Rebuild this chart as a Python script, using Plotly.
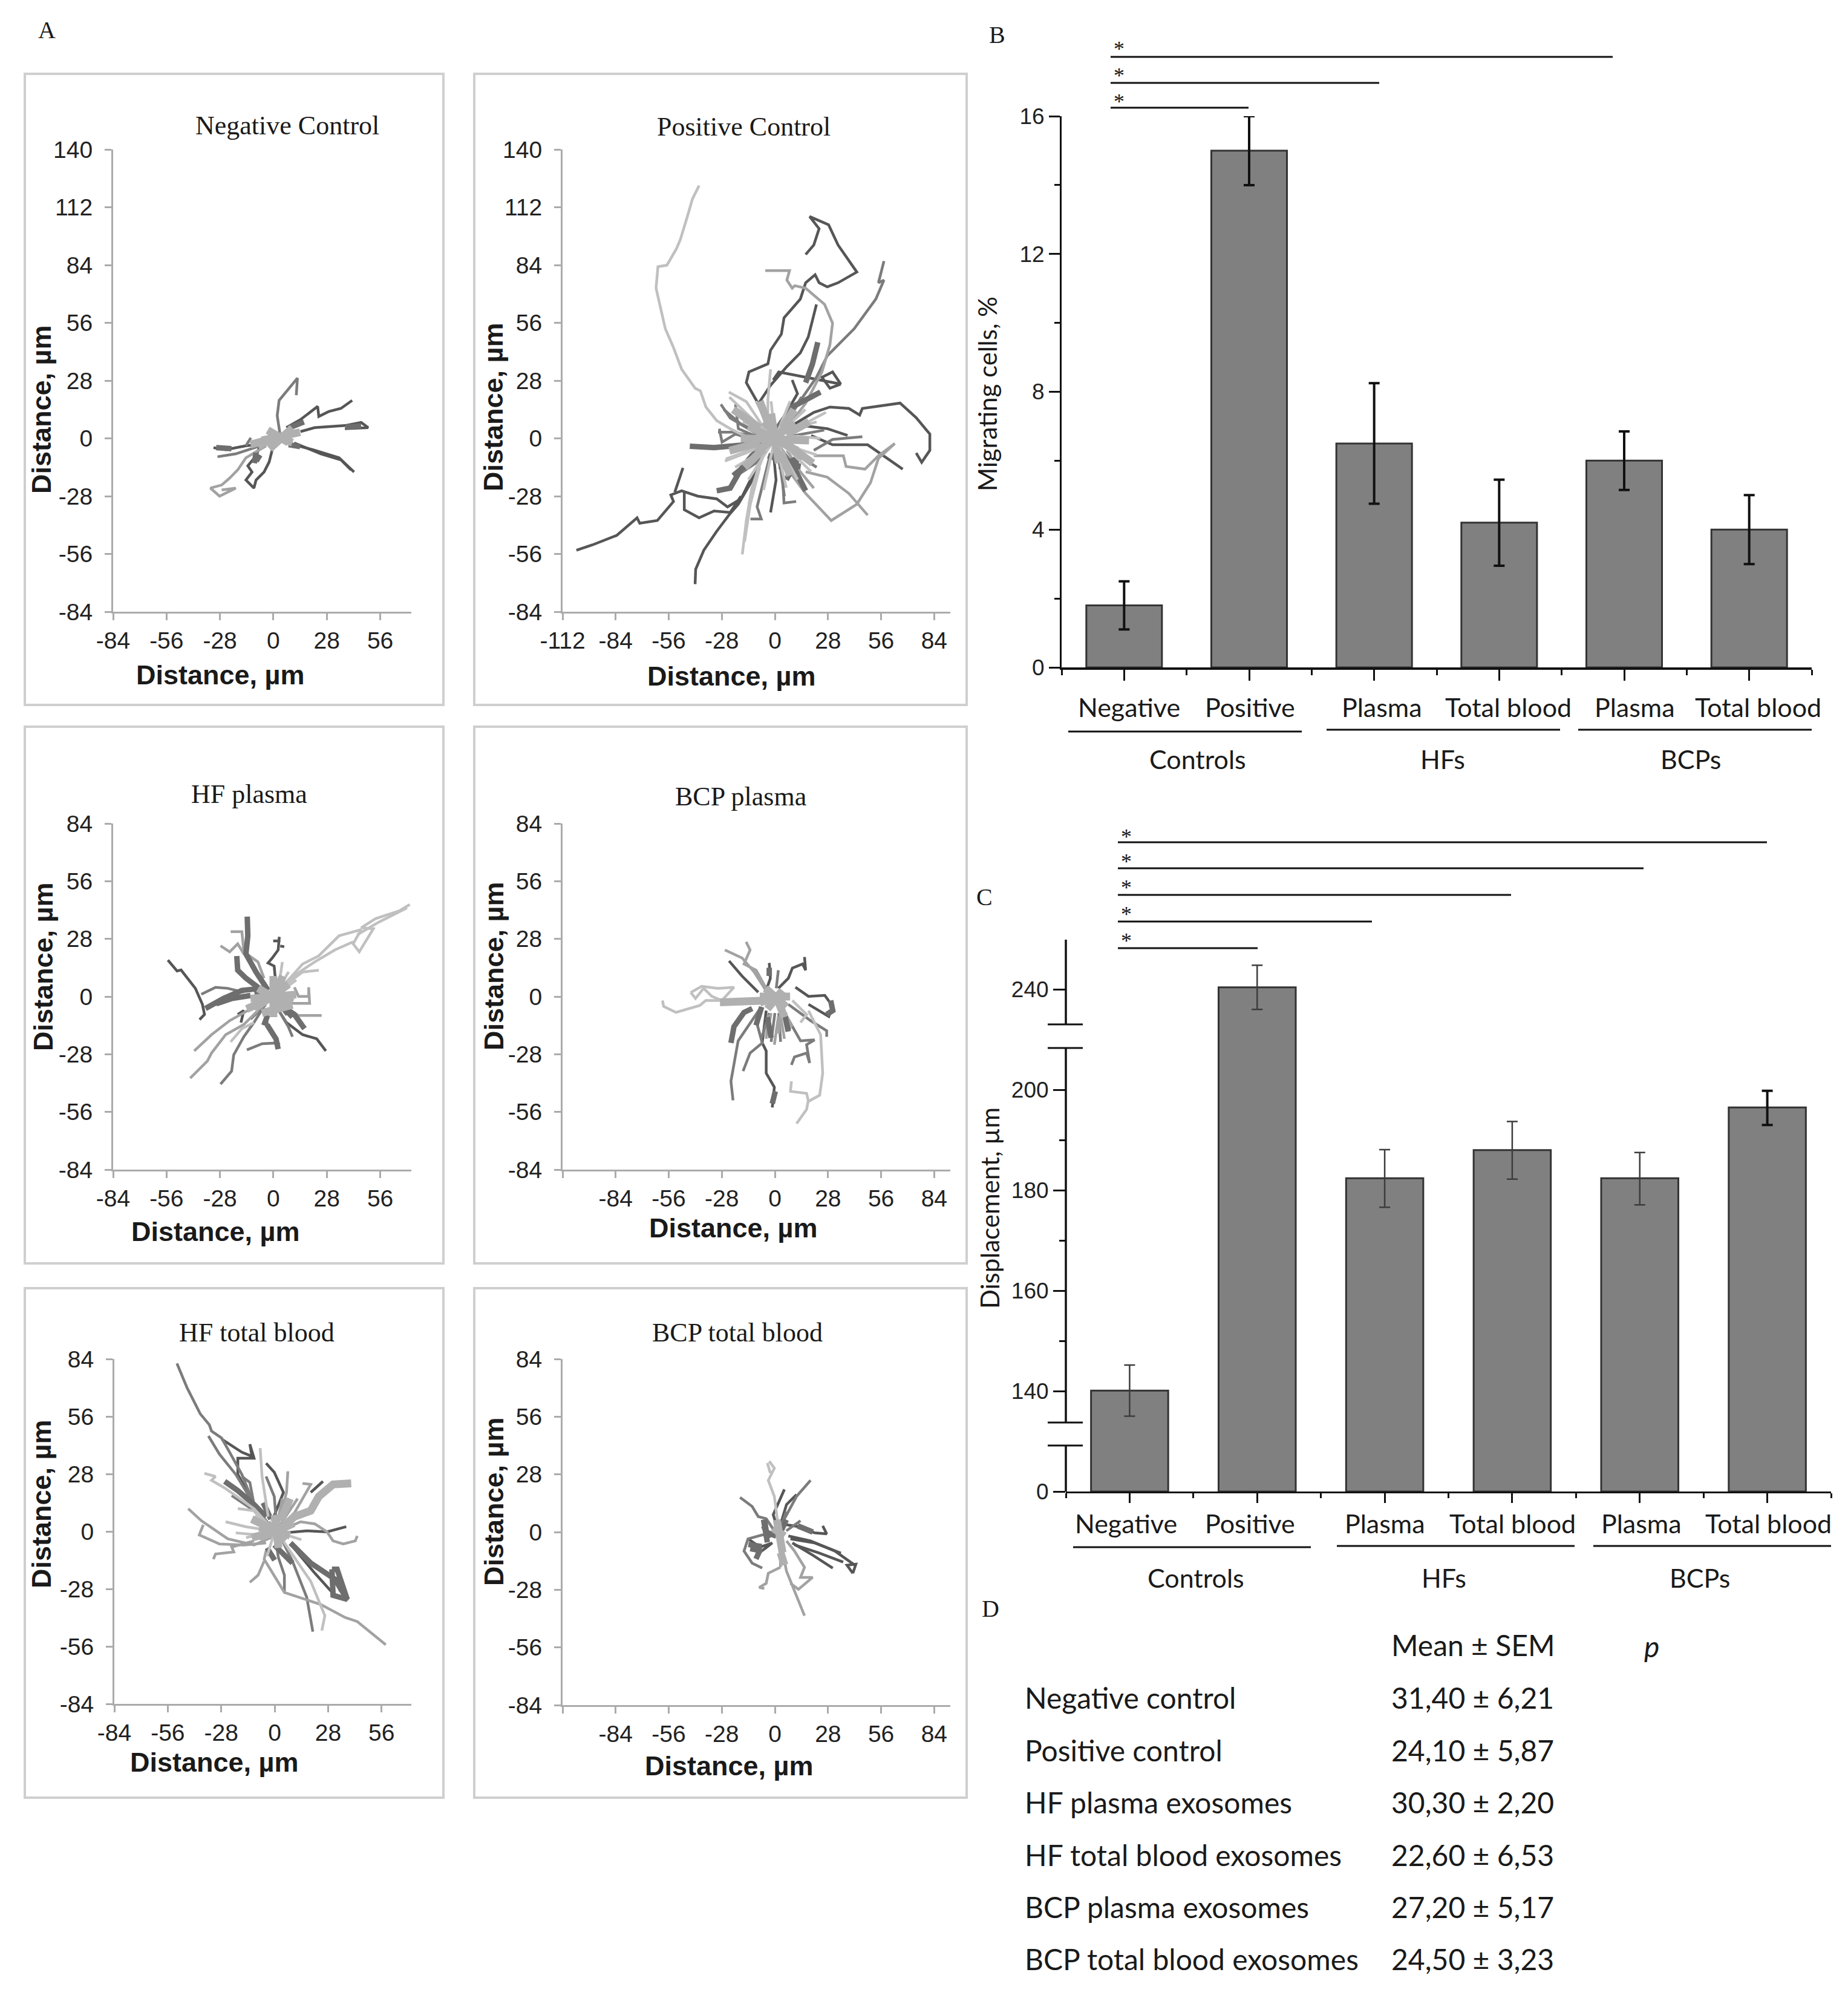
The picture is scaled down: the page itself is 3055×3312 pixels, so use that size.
import plotly.graph_objects as go

W, H = 3055, 3312

# ---------- Panel A: cell tracks, (x, y) in micrometres, grouped by shade ----------
neg_dark = [
    [(6.8,5.2),(14.2,9.1),(23.2,15.5),(23.8,10.6),(29,13),(35.4,14.5),(41.3,18.4)],
    [(8.9,-2.6),(20.6,-5.5),(34.4,-9.4),(42.3,-16.3)],
    [(10.9,-2.2),(24.9,-7.5),(35.4,-10.4),(40.7,-15.3)],
    [(14.2,3.3),(21.6,5.2),(37.5,6.2),(46,7.7),(49.7,5.2),(37.5,4.7)],
    [(-0.6,-5.5),(-2.2,-11.4),(-4.9,-16.3),(-9.1,-20.2),(-10.2,-24.1),(-14.4,-20.2),(-11.2,-16.3),(-13.4,-13.3),(-9.1,-8.5),(-7,-3.6)],
    [(-3.8,-2.6),(-14.4,-3.6),(-25,-5.5),(-31.4,-4.5)],
]
neg_grey = [
    [(3.6,1.3),(2,11),(3,18.4),(6.8,22.8),(12.6,29.2),(12,20.9)],
    [(-14.4,-3.6),(-11.8,0.3)],
    [(-7,-3.6),(-19.7,-7.5),(-29.3,-8.9)],
]
neg_pale = [
    [(-3.8,-3.6),(-14.4,-9.4),(-18.7,-15.3),(-22.9,-19.2),(-27.1,-22.6),(-33,-24.1),(-28.2,-28),(-19.7,-24.1),(-27.1,-25)],
]
neg_light = []
neg_wide_dark = [
    [(-9.1,-7),(-10,-12)],
    [(8,5),(16,8)],
    [(38,5.5),(46,6)],
    [(-30,-4.5),(-22,-5)],
    [(8,-3),(14,-4)],
    [(-7,-8),(-9,-11)],
]
neg_wide_pale = [
    [(-6,-1),(14,3)],
    [(-2,-5),(10,5)],
    [(-3,4),(8,-2)],
    [(-12,-3),(4,1)],
    [(-8,-4),(-3,-1)],
    [(10,-2),(4,0)],
]

pos_dark = [
    [(16.2,89.1),(20.5,93.7),(23.3,101.6),(18.3,107.5),(28.3,103.5),(33.3,93.7),(43.2,80.6),(33.3,75.4),(27.6,73.4),(23.3,75.4),(21.2,79.3),(16.2,75.4),(13.4,67.5),(4.8,58.4),(3.4,50.5),(-2.3,42.7),(-3.7,36.1),(-13.7,32.2),(-15.1,27),(-9.4,17.8),(-3.7,6)],
    [(21.9,64.9),(17.6,49.2),(13.4,41.4),(6.3,34.8),(-2.3,25.7),(-8,17.8),(-2.3,2.1)],
    [(34.7,26.3),(29,24.3),(24.8,29.6),(30.4,32.2),(34.7,26.3),(16.2,29.6),(2,32.2),(-0.9,28.3)],
    [(9.1,28.3),(11.9,21.7),(2,6)],
    [(6.3,4.7),(20.5,12.6),(29,15.2),(39,14.5),(44.7,11.3),(46.1,14.5),(66,17.1),(74.5,10),(81.7,2.1),(81.7,-5.8),(77.4,-11.6),(74.5,-7.1)],
    [(16.2,6),(27.6,4.7),(38.3,1.4)],
    [(19.1,1.4),(30.4,-3.1),(48.9,-3.1),(67.4,-14.9)],
    [(-104.7,-54.2),(-96.2,-51.6),(-83.4,-47),(-72.7,-38.5),(-71.3,-41.1),(-62,-39.8),(-53.5,-30.6),(-54.9,-27.4),(-49.2,-25.4),(-40.7,-28),(-30.7,-29.3),(-25,-33.2),(-17.9,-29.3),(-9.4,-13.6)],
    [(-48.5,-14.3),(-52.8,-26)],
    [(-47.8,-25.4),(-47.8,-34.6),(-40,-38.5),(-32.1,-35.2),(-23.6,-35.9),(-17.9,-28)],
    [(-42.1,-70.6),(-41.8,-63.4),(-37.5,-54.2),(-30.7,-45),(-24.3,-37.2),(-19.3,-31.9),(-9.4,-16.2)],
    [(-2.3,-35.9),(0.6,-20.2),(-0.9,-5.8)],
]
pos_grey = [
    [(57.5,85.9),(54.6,75.4),(57.5,76.7),(53.2,67.5),(41.8,53.1),(27.6,40),(21.9,29.6),(13.4,18.3),(2,2.1)],
    [(20.5,-5.8),(30.4,-0.5),(46.1,0.8)],
    [(-12.9,-39.1),(-7.2,-39.1),(-9.4,-33.2),(-5.1,-17.5),(-2.3,-7.1)],
    [(11.2,-30.6),(4.8,-31.3),(4.1,-20.2),(2,-5.8)],
    [(-28.5,16.5),(-23.6,9.9),(-9.4,2.1)],
    [(-29.3,4.7),(-27.9,-1.8),(-20.8,2.1),(-12.2,-0.5)],
    [(-20.8,16.5),(-19.3,4.7),(-9.4,0.8)],
    [(-30,3),(-22,3),(-10,1)],
    [(-27,14),(-18,7),(-6,2)],
    [(-20,-18),(-10,-12),(-2,-3)],
    [(5,-28),(3,-15),(0,-3)],
    [(14,-24),(8,-13),(1,-3)],
    [(22,-14),(12,-8),(2,-2)],
    [(26,4),(14,2),(2,0)],
    [(14,20),(8,11),(1,2)],
]
pos_pale = [
    [(-5.1,81.3),(7.7,81.3),(6.3,76.7),(9.1,72.8),(10.5,74),(16.2,72.8),(26.2,64.9),(30.4,55.8),(29,45.3),(24.8,32.2),(16.2,17),(4.8,3.4)],
    [(20.5,-8.4),(36.1,-8.4),(37.5,-13.6),(47.5,-14.9),(54.6,-8.4),(63.2,-2.5)],
    [(63.2,-2.5),(54.6,-9.7),(50.4,-21.5),(43.2,-31.9),(29.7,-39.8),(16.2,-26.7),(7.7,-16.2)],
    [(16.2,-16.2),(27.6,-18.8),(39,-26.7),(48.9,-37.2)],
    [(20.5,-24.1),(13.4,-16.2),(6.3,-5.8)],
]
pos_light = [
    [(-40,122.5),(-43.5,116),(-46.4,106.8),(-49.9,96.3),(-52,91.8),(-57,83.9),(-61.7,83.2),(-62.7,72.8),(-57.8,53.1),(-53.5,44),(-49.2,33.5),(-42.1,24.3),(-39.3,23),(-36.4,15.2),(-30.7,8.6),(-23.6,4.7),(-12.2,-0.5)],
    [(-24.3,22.4),(-15.1,17.8),(-3.7,2.1)],
    [(26.9,12.6),(13.4,6),(0.6,0.8)],
    [(-2.3,33.5),(-3.7,19.1),(-3.7,0.8)],
    [(-13.7,-31.9),(-9.4,-16.2),(-3.7,-3.1)],
    [(-26.4,-11),(-15,-7),(-3,-2)],
    [(-17.2,-56.2),(-15.1,-39.8),(-12.2,-24.1),(-6.5,-8.4)],
    [(-16,-50),(-13,-32),(-8,-14)],
    [(-24,20),(-17,14),(-8,6),(0,0)],
    [(-20,14),(-12,9),(0,0)],
    [(-17,8),(-8,5),(0,0)],
    [(-26,-10),(-14,-6),(0,0)],
    [(-21,-14),(-10,-8),(0,0)],
    [(-14,-20),(-7,-10),(0,0)],
    [(-6,-25),(-3,-12),(0,0)],
    [(6,-24),(3,-12),(0,0)],
    [(12,-20),(6,-10),(0,0)],
    [(19,-16),(10,-8),(0,0)],
    [(22,-8),(12,-5),(0,0)],
    [(24,0),(12,1),(0,0)],
    [(22,8),(11,5),(0,0)],
    [(16,14),(8,7),(0,0)],
    [(8,18),(4,9),(0,0)],
    [(-2,18),(-1,9),(0,0)],
    [(-10,18),(-5,9),(0,0)],
]
pos_wide_dark = [
    [(22.6,46.6),(19.8,36.1),(16.2,27)],
    [(-44.9,-3.8),(-32.1,-4.5),(-15.1,-3.1),(-3.7,-0.5)],
    [(-30.7,-25.4),(-23.6,-24.1),(-17.9,-14.9),(-12.2,-8.4),(-3.7,-1.8)],
    [(16.2,-25.4),(10.5,-14.9),(2,-4.5)],
    [(2,-13.6),(13.4,-13.6),(-3.7,-8.4)],
    [(24,22.4),(9.1,15.2),(-0.9,2.1)],
    [(-14,-12),(-22,-18)],
    [(6,-20),(12,-10)],
    [(16,-8),(6,-12)],
]
pos_wide_pale = [
    [(-14,6),(12,-6)],
    [(-10,-7),(10,8)],
    [(-2,12),(2,-12)],
    [(-18,0),(18,-1)],
    [(-6,8),(14,-9)],
    [(-22,14),(-8,5)],
    [(-24,-6),(-8,-2)],
    [(-16,-14),(-6,-5)],
    [(18,8),(6,2)],
    [(20,-12),(8,-4)],
    [(8,-18),(3,-6)],
    [(-8,18),(-3,6)],
    [(10,14),(4,5)],
]

hfp_dark = [
    [(-55.3,17.7),(-50.5,12.4),(-48.4,12.9),(-40.9,4),(-37.2,-3.8),(-36.1,-8.7),(-38.7,-11.2)],
    [(3.1,29),(2.5,22.6),(-0.6,18.7),(-2.8,16.3),(0.4,14.8),(1,8.9),(-0.6,3)],
    [(-0.1,27),(3.6,27)],
    [(3.6,24.5),(5.7,24.2)],
    [(27.5,-26.4),(22.7,-20.5),(15.3,-18.5),(6.8,-12.6),(1.5,-4.8)],
    [(-17,-12.6),(-15.5,-6.8),(-18.7,-8.7)],
]
hfp_grey = [
    [(-37.8,1.1),(-30.3,4.5),(-24,4),(-15.5,2.1)],
    [(10,-19.5),(7.8,-14.6),(1.5,-4.8)],
    [(-13.9,-25.9),(-5.9,-22.9),(2.5,-22.5),(-2.8,-14.6),(-4.9,-5.8)],
    [(-27.7,-42.5),(-21.9,-36.2),(-20.8,-28.3),(-15.5,-19.5),(-10.2,-12.6),(-4.9,-4.8)],
    [(-12,-11),(-4,-4)],
    [(-11,-2),(-3,0)],
    [(7,-9),(2,-3)],
]
hfp_pale = [
    [(-22.4,31.5),(-16.5,31.5),(-15.5,21.7),(-8.1,16.8),(-4.9,8.9)],
    [(-27.7,24.6),(-22.9,21.7),(-18.7,25.6),(-15.5,20.7)],
    [(11,4.5),(13.2,0.1),(18.5,0.1),(18.5,4.5),(19,-3.3),(8.9,-3.3),(1.5,-0.9)],
    [(25.3,-9.2),(13.1,-9.2),(2.5,-2.8)],
    [(-41.5,-26.4),(-32.4,-18.5),(-22.9,-11.7),(-13.4,-6.8)],
    [(-43.6,-39.6),(-34.6,-31.3),(-32.4,-27.4),(-25,-18.5),(-15.5,-13.6),(-8.1,-6.8)],
]
hfp_light = [
    [(71.5,44.7),(66.2,41.7),(53.5,37.8),(46,33.4),(52.4,32.9),(45,21.7),(41.8,25.6),(46,32.5),(34.4,29.5),(23.7,19.7),(15.3,15.8),(6.8,7),(-0.6,2.1)],
    [(41.8,26.6),(32.2,22.6),(21.6,16.8),(8.9,8.9),(0.4,2.1)],
    [(23.8,12.8),(15.3,11.9),(2.5,3)],
    [(-22.4,-22),(-16.5,-15.6),(-10.2,-12.6)],
    [(4.7,16.8),(2.5,3)],
    [(8,12),(2,3)],
    [(12,8),(3,2)],
    [(70,43),(55,36),(44,30)],
]
hfp_wide_dark = [
    [(-35.6,-5.8),(-26.1,-0.9),(-16.5,3),(-6,4)],
    [(-30,-3.5),(-22,-1),(-12,0.5)],
    [(-19.2,19.7),(-18.7,12.8),(-14.4,8.9),(-5.9,3)],
    [(-13.7,38.8),(-13.4,29.5),(-14.4,20.7),(-9.1,11.9),(-2.8,3)],
    [(16.3,-15.6),(11,-8.7),(4.7,-4.8),(0.4,-0.9)],
    [(2.5,-25.5),(1.4,-20.6),(-3.3,-13.7)],
    [(-5,-14),(-3,-9)],
    [(-10,2),(-3,3)],
    [(10,-10),(4,-4)],
]
hfp_wide_pale = [
    [(-10,-6),(8,6)],
    [(-8,4),(6,-4)],
    [(0,-10),(0,10)],
    [(-12,-1),(12,1)],
    [(-6,-8),(10,-4)],
    [(-14,-6),(-4,-2)],
    [(10,-3),(4,0)],
    [(5,10),(2,4)],
]

bcpp_dark = [
    [(15.6,19.2),(16.2,12.8),(14.6,15.8),(9.2,13.8),(7.1,8.9),(1.8,4)],
    [(10.8,4.5),(17.7,0.1),(26.3,0.6),(30.5,-4.8),(28.4,-9.7),(17.7,-3.8)],
    [(-1.4,-53.8),(-0.3,-44),(-4.6,-37.2),(-4.6,-26.4),(-6.7,-22.5),(-4.6,-6.8)],
    [(-24.2,17.3),(-17.3,9.9),(-8.8,2.1)],
    [(-3,16.3),(-2.4,8.9),(-4.6,3)],
]
bcpp_grey = [
    [(1.8,12.8),(0.7,4)],
    [(7.1,-3.8),(18.8,-11.7),(27.3,-16.6),(27.3,-19.5)],
    [(8.7,-33.2),(10.3,-29.3),(16.7,-27.4),(18.3,-32.3),(16.7,-23.4),(20.9,-21),(13.5,-21.5),(5,-7.7)],
    [(-22.1,-50.4),(-23.2,-41.1),(-19.4,-21.5),(-12,-11.7),(-7.8,-5.8)],
    [(-16.8,-36.2),(-13.1,-27.4),(-6.7,-22.5),(-9.9,-11.7)],
    [(-7,-20),(-3,-8)],
    [(-2,-22),(0,-8)],
    [(3,-22),(2,-8)],
    [(8,-16),(4,-6)],
]
bcpp_pale = [
    [(-26.4,22.6),(-17.3,18.7),(-10.9,11.9),(-3.5,1.1)],
    [(-15.2,26.6),(-13.1,22.6),(-16.3,15.8),(-9.9,12.8),(-3.5,2.1)],
    [(-4.6,-20.5),(-3.5,-8.7)],
    [(-0.3,-23.4),(1.8,-9.7)],
    [(5,-20.5),(2.9,-8.7)],
    [(9.2,-14.6),(5,-7.7)],
    [(-4,-18),(-2,-8)],
    [(2,-18),(3,-8)],
]
bcpp_light = [
    [(-59.3,-1.9),(-58.7,-4.8),(-52.2,-7.7),(-39.6,-4.3),(-36.5,-1.9),(-19.4,-1.9),(-3.5,-0.9)],
    [(9.2,-1.9),(16.7,-8.7),(13.5,-12.6)],
    [(17.7,-6.8),(24.1,-18.5),(25.2,-37.2),(23.6,-47.9),(17.7,-50.9),(16.7,-47),(8.2,-46),(8.7,-41.1)],
    [(11.4,-61.7),(16.7,-54.8),(17.7,-49.9)],
    [(-44.4,2),(-38.6,5),(-30.1,4),(-21.6,4.5),(-28,-1.9),(-33.3,0.1),(-37.6,4),(-41.9,-0.9),(-44.4,2)],
]
bcpp_wide_dark = [
    [(-23.2,-22.5),(-21.6,-14.6),(-16.3,-7.7),(-12,-5.8)],
    [(29.4,-1.9),(30.5,-6.8),(27.3,-8.7)],
    [(-1.4,-52),(0.2,-46)],
    [(-4,-10),(-2,-20)],
    [(-3,14),(-3,10)],
    [(-7,-5),(-10,-14)],
    [(5,-8),(7,-17)],
]
bcpp_wide_pale = [
    [(-8,0),(8,0)],
    [(-5,4),(6,-5)],
    [(-4,-6),(4,3)],
    [(-29,-2.8),(-14.1,-1.9),(-3.5,-1.9)],
    [(5,-10),(2,-3)],
    [(-8,-3),(0,0)],
]

hft_dark = [
    [(-27.8,45),(-17.2,38.6),(-11.9,36.6),(-13,42.5),(-10.8,35.7),(-19.3,35.7),(-19.3,27.8),(-10.8,13.1)],
    [(-4.5,33.2),(-0.2,28.8),(4.6,19),(-1.3,5.2)],
    [(25.3,24.4),(18.9,19)],
    [(37.5,2.3),(27.4,-0.2),(16.8,0.3),(5.1,-0.7)],
    [(10.4,-8.5),(21,-20.3),(30.6,-30.2)],
]
hft_grey = [
    [(-51.2,81.8),(-45.9,70),(-39,57.3),(-34.2,51.9),(-33.1,48.9),(-27.8,45.5),(-23.6,38.6),(-17.2,27.8),(-10.8,13.1),(-1.3,1.3)],
    [(-34.7,46.5),(-28.9,37.6),(-20.4,27.8),(-14,18),(-5.5,4.2)],
    [(-4.5,26.8),(-0.2,17),(0.8,5.2)],
    [(-17.2,26.8),(-13,23.9),(-10.8,13.1)],
    [(-22.5,17.5),(-10.8,10.1),(-2.3,1.3)],
    [(5.1,-29.2),(5.1,-21.3),(1.9,-12.5),(0.8,-5.6)],
    [(20,-48.8),(16.8,-32.1),(9.3,-14.4),(4,-4.6)],
]
hft_pale = [
    [(6.9,29.3),(6.2,19),(1.9,4.2)],
    [(14.6,23.4),(18.9,22.9),(10.4,9.1),(3,2.3)],
    [(43.3,-2.2),(42.2,-4.6),(35.9,-6.1),(30.6,-4.6),(27.4,-0.2),(21,3.7),(13.6,4.7),(5.1,1.3)],
    [(-45.3,11.1),(-38.4,5.2),(-24.6,-3.6),(-10.8,-6.6),(-1.3,-2.7)],
    [(-37.4,3.2),(-39.5,-1.7),(-28.9,-6.1),(-16.1,-6.6),(-4.5,-5.6)],
    [(-32.1,-13.5),(-31,-11),(-21.4,-10),(-22.5,-7.6),(-10.8,-4.6)],
    [(58.2,-55.2),(43.3,-43.9),(36.9,-41.9),(24.2,-35.6),(5.1,-29.7),(-2.3,-18.4),(-5.5,-13.5),(-4.5,-9.5)],
    [(-13,-24.8),(-8.7,-21.3),(-5.5,-14.4)],
    [(12,16),(2,2)],
    [(4,16),(1,2)],
]
hft_light = [
    [(-7.6,40.6),(-6.6,26.8),(-3.4,7.2)],
    [(-36.8,28.3),(-31,26.8),(-33.1,24.9),(-25.7,20.9),(-10.8,11.1),(-1.3,1.3)],
    [(-25.7,4.7),(-15.1,2.3),(-1.3,0.3)],
    [(-19.3,11.1),(-10.8,10.1),(-0.2,0.3)],
    [(-20.4,-0.7),(-8.7,-1.7),(-0.2,-0.7)],
    [(24.7,-48.3),(26.3,-41),(18.9,-24.3),(10.4,-12.5),(3,-2.7)],
    [(-15,-3),(0,0)],
    [(-10,8),(0,0)],
    [(10,8),(0,0)],
    [(-4,-12),(0,0)],
    [(14,-4),(0,0)],
]
hft_wide_dark = [
    [(-26.2,24.4),(-19.3,19.9),(-10.8,13.1),(-4.5,7.2)],
    [(8.3,-5.6),(18.9,-15.4),(31.6,-23.3),(38,-33.1)],
    [(30,-18.4),(32.7,-18.4),(38,-33.1),(30.6,-31.1),(30,-18.4)],
    [(33,-22),(35,-29)],
    [(-0.2,-6.6),(4,-10.5),(9.3,-15.4)],
    [(-6,14),(-2,6)],
    [(-4,-8),(0,-14)],
]
hft_wide_pale = [
    [(40.1,23.4),(30.6,22.9),(23.1,17),(18.9,10.1),(10.4,7.2),(3,1.3)],
    [(-8,2),(8,-2)],
    [(-4,4),(5,-5)],
    [(-8,-3),(6,2)],
    [(0,8),(2,-8)],
    [(-12,6),(-3,2)],
    [(-12,-3),(-3,-1)],
    [(10,4),(3,1)],
    [(8,16),(3,5)],
]

bcpt_dark = [
    [(5,20.7),(1.8,14.3),(-0.9,8.4),(1.8,0.6)],
    [(11.4,18.2),(6.1,13.3),(2.9,3.5)],
    [(25.2,3),(27.3,-0.9),(20.9,-0.4),(13.5,2.5),(6.1,3.5)],
    [(42.2,-16.1),(31.6,-9.2),(18.8,-4.3),(7.1,-1.9)],
    [(41.1,-20),(38,-16.1),(42.7,-15.6),(41.1,-20)],
    [(34.8,-10.2),(21,-5.3),(8.2,-3.3)],
    [(30.5,-17.5),(19.9,-11.2),(9.2,-5.3)],
    [(36,-14.6),(23.3,-10.2),(10.3,-6.2)],
    [(-14.2,-3.3),(-7.8,-7.3),(-1.4,-5.3),(-9.9,-11.2)],
]
bcpt_grey = [
    [(18.8,25.1),(11.4,17.3),(3.9,4.5)],
    [(-18.4,16.8),(-12,12.4),(-8.8,7.5),(-4.6,6.5),(-0.3,0.6)],
    [(13.5,5.5),(6,0.6)],
    [(-6.7,-17.5),(-12,-15.1),(-16.3,-9.2),(-14.2,-3.3),(-6.7,-1.4),(-0.3,-1.4)],
    [(6,10),(3,2)],
]
bcpt_pale = [
    [(2.9,-17.1),(-3.5,-20),(-4.6,-24.9),(-8.3,-26.9),(-5.6,-27.4)],
    [(2.9,-17.1),(2.9,-5.3)],
    [(15.6,-40.6),(11.4,-30.8),(6.1,-19),(2.9,-4.3)],
    [(8.2,-24.9),(12.4,-27.8),(19.9,-22),(13.5,-22),(15.6,-17.1),(10.3,-9.2),(6.1,-4.3)],
]
bcpt_light = [
    [(-3,34.4),(-0.3,31),(-3.5,25.1),(-0.3,17.3),(1.8,2.5)],
    [(-4,33.5),(-2.4,28.6)],
]
bcpt_wide_dark = [
    [(-5.5,6),(-4.5,0),(0.7,-2)],
    [(-13,-8),(-8,-9),(-10,-13)],
    [(12,3),(20,0)],
    [(-6,6),(-5,-1),(-4,-5)],
    [(-6,3),(-3,-3)],
    [(6,6),(3,0)],
    [(-14,-6),(-7,-7)],
]
bcpt_wide_pale = [
    [(1,6),(4,-10)],
    [(-1,2),(5,-2)],
    [(3,-10),(5,-16)],
]

# ---------- Panel B: migrating cells, % ----------
categories = ["Negative", "Positive", "Plasma", "Total blood", "Plasma", "Total blood"]
groups = ["Controls", "HFs", "BCPs"]
migrating = [1.8, 15.0, 6.5, 4.2, 6.0, 4.0]
migrating_up = [0.7, 1.0, 1.75, 1.25, 0.85, 1.0]
migrating_down = [0.7, 1.0, 1.75, 1.25, 0.85, 1.0]
migrating_ticks = [0, 4, 8, 12, 16]
migrating_minor = [2, 6, 10, 14]

# ---------- Panel C: displacement, um (axis has two breaks) ----------
displacement = [140.1, 240.4, 182.4, 188.0, 182.4, 196.5]
displacement_up = [5.1, 4.4, 5.7, 5.7, 5.1, 3.3]
displacement_down = [5.1, 4.4, 5.8, 5.8, 5.3, 3.5]
displacement_ticks = [0, 140, 160, 180, 200, 240]
displacement_minor = [150, 170, 190]

# ---------- Panel D: table ----------
table_rows = ["Negative control", "Positive control", "HF plasma exosomes",
              "HF total blood exosomes", "BCP plasma exosomes", "BCP total blood exosomes"]
table_means = ["31,40 ± 6,21", "24,10 ± 5,87", "30,30 ± 2,20",
               "22,60 ± 6,53", "27,20 ± 5,17", "24,50 ± 3,23"]

# ---------- layout helpers ----------
def px(x): return x / W
def py(y): return 1 - y / H

SHADES = [("dark", "#565656", 4.5), ("grey", "#7c7c7c", 4.5), ("pale", "#a2a2a2", 4.5),
          ("wide_dark", "#6e6e6e", 9), ("light", "#c0c0c0", 4.5), ("wide_pale", "#b0b0b0", 13)]

PANELS = [
    dict(key="neg", title="Negative Control", tx=475, ty=207, x=(187,680), y=(247,1011), xr=(-84,72.3), yr=(-84,140),
         yticks=[-84,-56,-28,0,28,56,84,112,140], xticks=[-84,-56,-28,0,28,56], xlabels=None,
         ytitle=(69,677), xtitle=(364,1115), box=(41,122,733,1165)),
    dict(key="pos", title="Positive Control", tx=1229, ty=210, x=(930,1571), y=(247,1011), xr=(-112,92.5), yr=(-84,140),
         yticks=[-84,-56,-28,0,28,56,84,112,140], xticks=[-112,-84,-56,-28,0,28,56,84], xlabels=None,
         ytitle=(816,673), xtitle=(1209,1117), box=(784,122,1598,1165)),
    dict(key="hfp", title="HF plasma", tx=412, ty=1312, x=(187,680), y=(1361,1933), xr=(-84,72.3), yr=(-84,84),
         yticks=[-84,-56,-28,0,28,56,84], xticks=[-84,-56,-28,0,28,56], xlabels=None,
         ytitle=(71,1598), xtitle=(356,2036), box=(41,1201,733,2088)),
    dict(key="bcpp", title="BCP plasma", tx=1224, ty=1316, x=(930,1571), y=(1361,1933), xr=(-112,92.5), yr=(-84,84),
         yticks=[-84,-56,-28,0,28,56,84], xticks=[-112,-84,-56,-28,0,28,56,84], xlabels=[""]+[-84,-56,-28,0,28,56,84],
         ytitle=(816,1597), xtitle=(1212,2030), box=(784,1201,1598,2088)),
    dict(key="hft", title="HF total blood", tx=425, ty=2202, x=(189,680), y=(2246,2816), xr=(-84,71.6), yr=(-84,84),
         yticks=[-84,-56,-28,0,28,56,84], xticks=[-84,-56,-28,0,28,56], xlabels=None,
         ytitle=(68,2486), xtitle=(354,2912), box=(41,2129,733,2971)),
    dict(key="bcpt", title="BCP total blood", tx=1219, ty=2202, x=(930,1571), y=(2246,2818), xr=(-112,92.5), yr=(-84,84),
         yticks=[-84,-56,-28,0,28,56,84], xticks=[-112,-84,-56,-28,0,28,56,84], xlabels=[""]+[-84,-56,-28,0,28,56,84],
         ytitle=(816,2482), xtitle=(1205,2918), box=(784,2129,1598,2971)),
]

fig = go.Figure()
layout = {}
annotations = []
shapes = []

def note(text, x, y, size, family, color="#1a1a1a", anchor="center", angle=0, bold=False, italic=False):
    t = text
    if bold: t = f"<b>{t}</b>"
    if italic: t = f"<i>{t}</i>"
    annotations.append(dict(text=t, x=px(x), y=py(y), xref="paper", yref="paper", showarrow=False,
                            xanchor=anchor, yanchor="middle", textangle=angle, borderpad=0,
                            font=dict(size=size, family=family, color=color)))

def rule(x0, x1, y, color="#111111", width=3):
    shapes.append(dict(type="line", xref="paper", yref="paper", x0=px(x0), x1=px(x1), y0=py(y), y1=py(y),
                       line=dict(color=color, width=width)))

SANS = "Liberation Sans"
SERIF = "Liberation Serif"
SOFT = "Lato"

ns = globals()
for i, p in enumerate(PANELS, start=1):
    xa = f"xaxis{i}"; ya = f"yaxis{i}"
    layout[xa] = dict(domain=[px(p["x"][0]), px(p["x"][1])], range=list(p["xr"]), anchor=f"y{i}", automargin=False,
                      showgrid=False, zeroline=False, showline=True, linecolor="#ababab", linewidth=3,
                      ticks="outside", ticklen=11, tickwidth=3, tickcolor="#ababab",
                      tickvals=p["xticks"], ticktext=[str(v) for v in (p["xlabels"] or p["xticks"])],
                      tickfont=dict(size=39, family=SANS, color="#222222"), ticklabelstandoff=0, tickangle=0)
    layout[ya] = dict(domain=[py(p["y"][1]), py(p["y"][0])], range=list(p["yr"]), anchor=f"x{i}", automargin=False,
                      showgrid=False, zeroline=False, showline=True, linecolor="#ababab", linewidth=3,
                      ticks="outside", ticklen=11, tickwidth=3, tickcolor="#ababab",
                      tickvals=p["yticks"], ticktext=[str(v) for v in p["yticks"]],
                      tickfont=dict(size=39, family=SANS, color="#222222"), ticklabelstandoff=12)
    for name, color, width in SHADES:
        for track in ns[f'{p["key"]}_{name}']:
            fig.add_trace(go.Scatter(x=[q[0] for q in track], y=[q[1] for q in track], mode="lines",
                                     line=dict(color=color, width=width), xaxis=f"x{i}", yaxis=f"y{i}",
                                     showlegend=False, hoverinfo="skip"))
    note(p["title"], p["tx"], p["ty"], 44, SERIF)
    note("Distance, µm", p["ytitle"][0], p["ytitle"][1], 45, SANS, angle=-90, bold=True)
    note("Distance, µm", p["xtitle"][0], p["xtitle"][1], 45, SANS, bold=True)
    x0, y0, x1, y1 = p["box"]
    shapes.append(dict(type="rect", xref="paper", yref="paper", x0=px(x0), x1=px(x1), y0=py(y1), y1=py(y0),
                       line=dict(color="#cfcfcf", width=4), layer="below"))

positions = list(range(len(categories)))

# ---------- B ----------
fig.add_trace(go.Bar(x=positions, y=migrating, width=0.605, marker=dict(color="#808080", line=dict(color="#333333", width=3)),
                     error_y=dict(type="data", symmetric=False, array=migrating_up, arrayminus=migrating_down,
                                  color="#111111", thickness=4, width=9),
                     xaxis="x7", yaxis="y7", showlegend=False))
layout["xaxis7"] = dict(domain=[px(1755), px(2995)], range=[-0.5, 5.5], anchor="y7", automargin=False, showgrid=False, zeroline=False,
                        showline=True, linecolor="#111111", linewidth=4, ticks="outside", ticklen=18, tickwidth=3,
                        tickcolor="#111111", tickvals=positions, showticklabels=False,
                        minor=dict(tickvals=[-0.5,0.5,1.5,2.5,3.5,4.5,5.5], ticks="outside", ticklen=9, tickwidth=3, tickcolor="#111111"))
layout["yaxis7"] = dict(domain=[py(1103), py(192)], range=[0, 16], anchor="x7", automargin=False, showgrid=False, zeroline=False,
                        showline=True, linecolor="#111111", linewidth=3, ticks="outside", ticklen=18, tickwidth=3,
                        tickcolor="#111111", tickvals=migrating_ticks, ticktext=[str(v) for v in migrating_ticks],
                        tickfont=dict(size=37, family=SANS, color="#222222"),
                        minor=dict(tickvals=migrating_minor, ticks="outside", ticklen=9, tickwidth=3, tickcolor="#111111"))
for cat, x in zip(categories, [1866, 2066, 2284, 2493, 2702, 2906]):
    note(cat, x, 1168, 43, SOFT)
for g, x in zip(groups, [1980, 2385, 2795]):
    note(g, x, 1254, 43, SOFT)
rule(1766, 2152, 1209); rule(2193, 2579, 1206); rule(2609, 2995, 1206)
for y, x1, ay in [(94, 2666, 76), (137, 2280, 120), (178, 2064, 163)]:
    rule(1836, x1, y)
    note("*", 1850, ay + 5, 36, SERIF)
note("Migrating cells, %", 1632, 651, 42, SOFT, angle=-90)

# ---------- C ----------
def broken(v):
    """Map a displacement value onto the broken axis of the figure."""
    if v >= 225: return v - 140
    if v >= 130: return v - 120
    return v * 10 / 130

disp_pos = [broken(v) for v in displacement]
disp_up = [broken(v + u) - broken(v) for v, u in zip(displacement, displacement_up)]
disp_down = [broken(v) - broken(v - d) for v, d in zip(displacement, displacement_down)]
for idx, (thick, colr) in ((range(0, 5), (2.5, "#3c3c3c")), (range(5, 6), (4, "#111111"))):
    idx = list(idx)
    fig.add_trace(go.Bar(x=[positions[k] for k in idx], y=[disp_pos[k] for k in idx], width=0.605,
                         marker=dict(color="#808080", line=dict(color="#333333", width=3)),
                         error_y=dict(type="data", symmetric=False, array=[disp_up[k] for k in idx],
                                      arrayminus=[disp_down[k] for k in idx], color=colr, thickness=thick, width=9),
                         xaxis="x8", yaxis="y8", showlegend=False))
layout["xaxis8"] = dict(domain=[px(1762), px(3027)], range=[-0.5, 5.5], anchor="y8", automargin=False, showgrid=False, zeroline=False,
                        showline=True, linecolor="#111111", linewidth=3, ticks="outside", ticklen=16, tickwidth=3,
                        tickcolor="#111111", tickvals=positions, showticklabels=False,
                        minor=dict(tickvals=[-0.5,0.5,1.5,2.5,3.5,4.5,5.5], ticks="outside", ticklen=8, tickwidth=3, tickcolor="#111111"))
layout["yaxis8"] = dict(domain=[py(2465), py(1553)], range=[0, 109.9], anchor="x8", automargin=False, showgrid=False, zeroline=False,
                        showline=False, ticks="outside", ticklen=20, tickwidth=3, tickcolor="#111111",
                        tickvals=[broken(v) for v in displacement_ticks], ticktext=[str(v) for v in displacement_ticks],
                        tickfont=dict(size=37, family=SANS, color="#222222"),
                        minor=dict(tickvals=[broken(v) for v in displacement_minor], ticks="outside", ticklen=10, tickwidth=3, tickcolor="#111111"))
for y0, y1 in [(0, 9.25), (13.8, 88.3), (93, 109.9)]:
    shapes.append(dict(type="line", xref="paper", yref="y8", x0=px(1762), x1=px(1762), y0=y0, y1=y1,
                       line=dict(color="#111111", width=3.5)))
for y in [1693, 1732, 2351, 2389]:
    rule(1732, 1790, y)
for cat, x in zip(categories, [1862, 2066, 2289, 2500, 2713, 2923]):
    note(cat, x, 2517, 43, SOFT)
for g, x in zip(groups, [1977, 2387, 2810]):
    note(g, x, 2607, 43, SOFT)
rule(1774, 2167, 2557); rule(2210, 2603, 2555); rule(2634, 3027, 2555)
for y, x1, ay in [(1392, 2921, 1378), (1435, 2717, 1419), (1479, 2498, 1462), (1523, 2268, 1506), (1567, 2079, 1550)]:
    rule(1848, x1, y)
    note("*", 1862, ay + 5, 36, SERIF)
note("Displacement, µm", 1636, 1997, 42, SOFT, angle=-90)

# ---------- D ----------
note("Mean ± SEM", 2299, 2718, 48, SOFT, anchor="left")
note("p", 2730, 2720, 48, SOFT, italic=True)
for label, mean, y in zip(table_rows, table_means, [2805, 2892, 2978, 3065, 3151, 3237]):
    note(label, 1693, y, 48, SOFT, anchor="left")
    note(mean, 2299, y, 48, SOFT, anchor="left")

# ---------- panel letters ----------
for letter, x, y in [("A", 77, 50), ("B", 1648, 58), ("C", 1627, 1483), ("D", 1637, 2658)]:
    note(letter, x, y, 40, SERIF)

fig.update_layout(width=W, height=H, margin=dict(l=0, r=0, t=0, b=0, autoexpand=False), paper_bgcolor="white", plot_bgcolor="white",
                  barmode="overlay", showlegend=False, annotations=annotations, shapes=shapes, **layout)
fig.write_html("out.html", config={"displayModeBar": False}, post_script="document.body.style.margin='0';")
